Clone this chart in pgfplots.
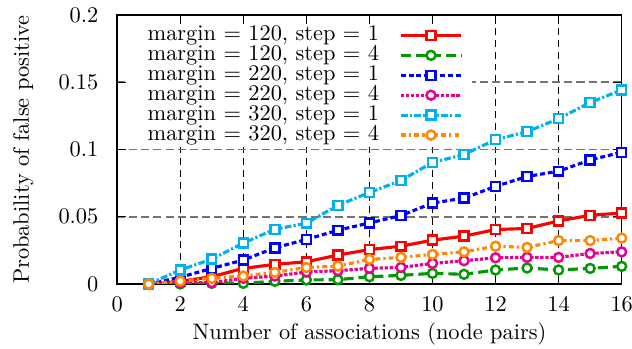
\documentclass[border=0pt]{standalone}
\usepackage{pgfplots}
\pgfplotsset{compat=1.18}
\definecolor{cred}{RGB}{255,0,0}
\definecolor{cgreen}{RGB}{0,153,0}
\definecolor{cblue}{RGB}{0,0,255}
\definecolor{cmag}{RGB}{235,0,140}
\definecolor{clblue}{RGB}{0,176,240}
\definecolor{corange}{RGB}{255,136,0}
\begin{document}
\begin{tikzpicture}[trim right=230pt]
\begin{axis}[
  scale only axis,
  width=225.4pt, height=120.1pt,
  xmin=0, xmax=16, ymin=0, ymax=0.2,
  xtick={0,2,...,16},
  ytick={0,0.05,0.1,0.15,0.2},
  yticklabels={0,0.05,0.1,0.15,0.2},
  scaled y ticks=false,
  tick align=inside,
  major tick length=4pt,
  axis line style={line width=0.7pt},
  every tick/.style={black, line width=0.5pt},
  xmajorgrids, ymajorgrids,
  x grid style={black, dash pattern=on 3.1pt off 2.2pt, line width=0.5pt},
  y grid style={black!55, dash pattern=on 3.6pt off 1.8pt, line width=0.8pt},
  extra y ticks={0.1},
  extra y tick labels={},
  extra y tick style={grid=major, major grid style={black, dash pattern=on 3.1pt off 2.2pt, line width=0.5pt}},
  xticklabel style={yshift=-2.4pt},
  yticklabel style={xshift=-4.9pt},
  xlabel={Number of associations (node pairs)},
  ylabel={Probability of false positive},
  xlabel style={at={(axis description cs:0.5,0)}, anchor=base, yshift=-25pt, inner ysep=1.5pt},
  ylabel style={at={(axis description cs:0,0.5)}, anchor=center, yshift=42pt, inner ysep=5.8pt},
  legend cell align=left,
  legend plot pos=right,
  legend style={draw=none, fill=white, at={(0,1)}, anchor=north west, xshift=4.2pt, yshift=-4.2pt,
    inner xsep=4.3pt, inner ysep=0.2pt, row sep=0pt, column sep=4.1pt,
    nodes={inner ysep=0pt, inner xsep=4.9pt, text height=6.7pt, text depth=2.2pt}},
  legend image code/.code={\draw[mark repeat=2,mark phase=2] plot coordinates {(0pt,0pt) (13.5pt,0pt) (27pt,0pt)};},
  every axis plot/.append style={line width=1.4pt, mark size=2pt, mark options={fill=white, solid, line width=1.1pt}},
]
\addplot[cred, solid, mark=square*] coordinates {
(1,0) (2,0.002) (3,0.0054) (4,0.0116) (5,0.0146) (6,0.0165) (7,0.0215) (8,0.0256)
(9,0.0281) (10,0.0326) (11,0.0356) (12,0.0405) (13,0.0413) (14,0.0469) (15,0.0511) (16,0.0528)};
\addlegendentry{margin = 120, step = 1}
\addplot[cgreen, dash pattern=on 4.5pt off 2.2pt, mark=*] coordinates {
(1,0) (2,0) (3,0.0005) (4,0.0005) (5,0.002) (6,0.003) (7,0.0032) (8,0.0054)
(9,0.0064) (10,0.0079) (11,0.0072) (12,0.0104) (13,0.0119) (14,0.0104) (15,0.0116) (16,0.0131)};
\addlegendentry{margin = 120, step = 4}
\addplot[cblue, dash pattern=on 2.2pt off 1.3pt, mark=square*] coordinates {
(1,0) (2,0.005) (3,0.0116) (4,0.0178) (5,0.0269) (6,0.0331) (7,0.04) (8,0.0454)
(9,0.0509) (10,0.0602) (11,0.0639) (12,0.0726) (13,0.08) (14,0.0839) (15,0.0923) (16,0.098)};
\addlegendentry{margin = 220, step = 1}
\addplot[cmag, dash pattern=on 1.5pt off 0.75pt, mark=*] coordinates {
(1,0) (2,0.001) (3,0.001) (4,0.0042) (5,0.0059) (6,0.0089) (7,0.0099) (8,0.0116)
(9,0.0123) (10,0.0153) (11,0.0173) (12,0.0195) (13,0.0198) (14,0.0198) (15,0.0227) (16,0.0239)};
\addlegendentry{margin = 220, step = 4}
\addplot[clblue, dash pattern=on 3pt off 1pt on 1pt off 1pt, mark=square*] coordinates {
(1,0) (2,0.0104) (3,0.0185) (4,0.0304) (5,0.0407) (6,0.0452) (7,0.0585) (8,0.068)
(9,0.077) (10,0.0904) (11,0.0963) (12,0.1074) (13,0.1133) (14,0.123) (15,0.135) (16,0.1444)};
\addlegendentry{margin = 320, step = 1}
\addplot[corange, dash pattern=on 2.2pt off 1.4pt on 1pt off 1.4pt, mark=*] coordinates {
(1,0) (2,0.0022) (3,0.0042) (4,0.0059) (5,0.0086) (6,0.0123) (7,0.0133) (8,0.0183)
(9,0.0198) (10,0.022) (11,0.0239) (12,0.0281) (13,0.0272) (14,0.0323) (15,0.0323) (16,0.0341)};
\addlegendentry{margin = 320, step = 4}
\end{axis}
\end{tikzpicture}
\end{document}
